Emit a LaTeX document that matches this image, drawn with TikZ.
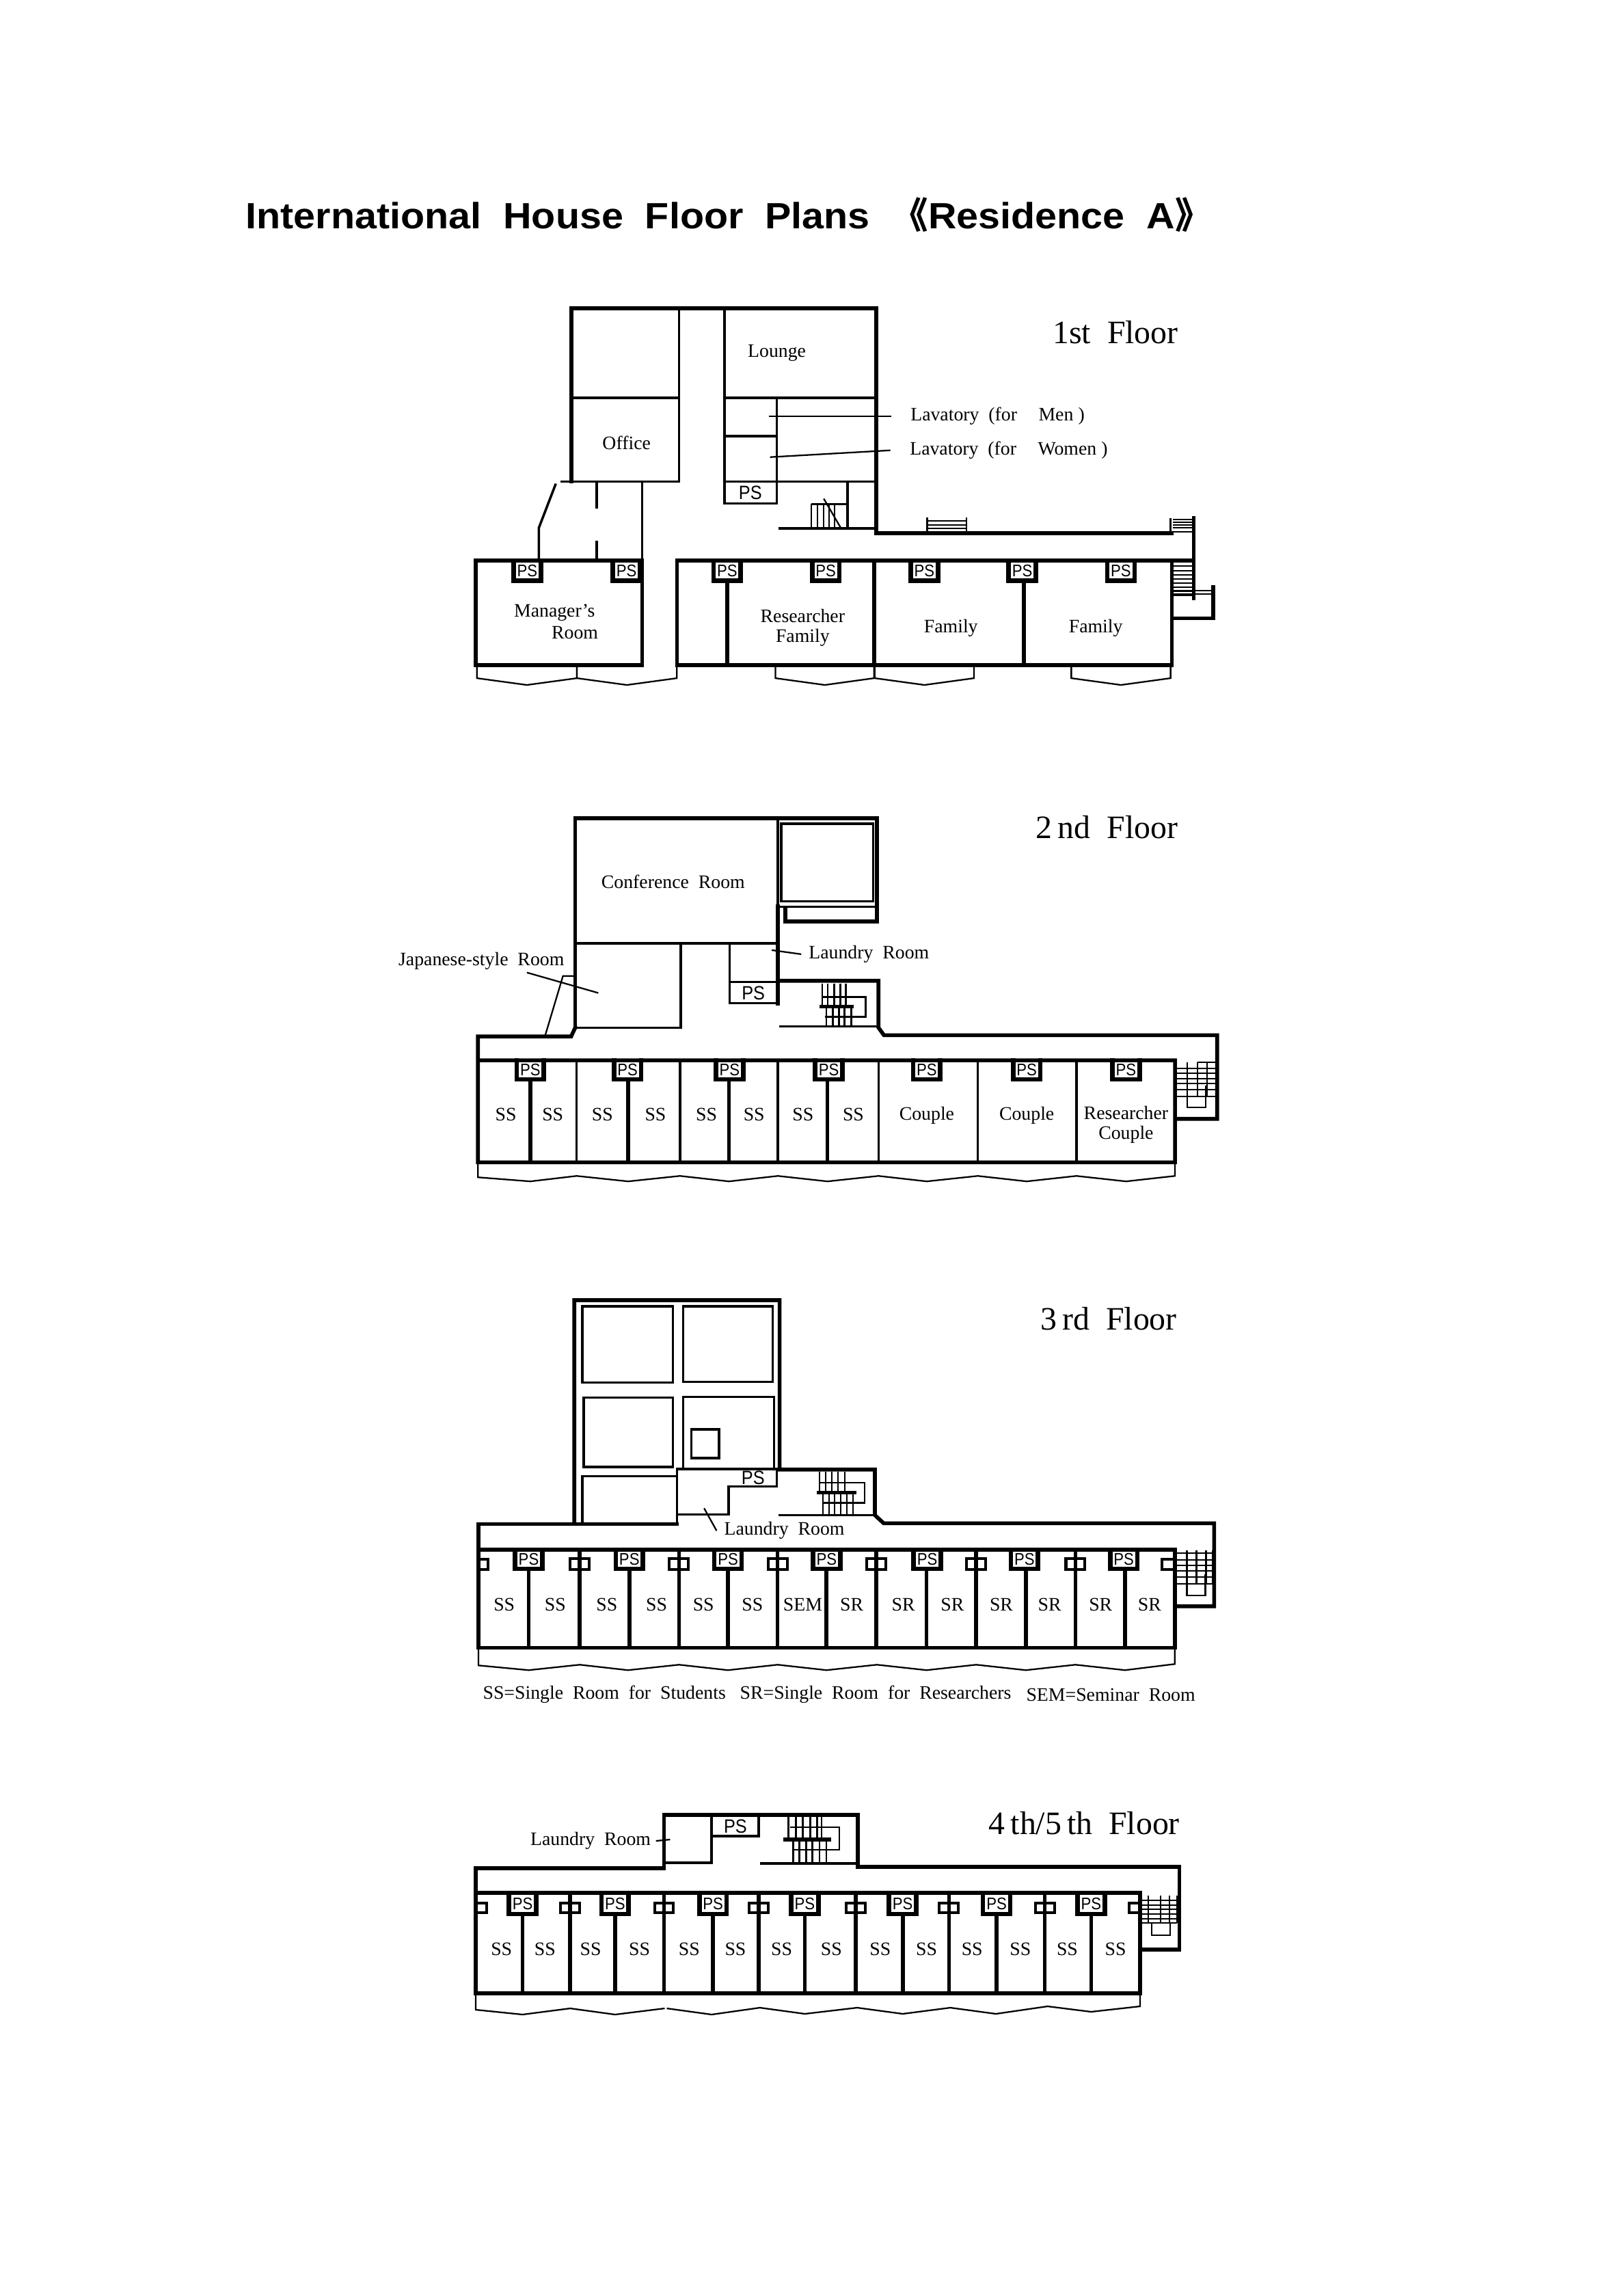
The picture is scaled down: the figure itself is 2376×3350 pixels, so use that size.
\documentclass[tikz,border=0pt]{standalone}
\usepackage{fontspec}
\setmainfont[WordSpace=2]{Liberation Serif}
\newfontfamily\titlefont[WordSpace=2,FakeStretch=1.075]{Liberation Sans}
\newfontfamily\bracketfont{Noto Sans CJK JP}
\newfontfamily\psfont[FakeStretch=.9]{Liberation Sans}
\newcommand{\psniche}[4]{
  \node[psmall] (ps#4) at (#1,{(#2+#3)/2}) {PS};
  \draw[niche] (#1-20,#2) -- (#1-20,#3) -- (#1+20,#3) -- (#1+20,#2);
}
\newcommand{\pipebox}[3]{
  \draw[pipe] (#1-14,#2) rectangle (#1+14,#3);
}
\newcommand{\bay}[3]{
  \draw[thin] (#1,#3) -- (#1,#3+17) -- ({(#1+#2)/2},#3+27) -- (#2,#3+17) -- (#2,#3);
}
\begin{document}
\begin{tikzpicture}[x=0.01cm,y=-0.01cm,
    wall/.style={line width=1.6pt,line cap=rect},
    niche/.style={line width=1.9pt,line cap=rect},
    pipe/.style={line width=1.15pt},
    mid/.style={line width=1pt},
    thin/.style={line width=0.65pt},
    room/.style={inner sep=0pt,font=\fontsize{7.9}{8.3}\selectfont,align=center},
    floorname/.style={inner sep=0pt,font=\fontsize{13.6}{16}\selectfont},
    psbig/.style={inner sep=0pt,font=\psfont\fontsize{8}{8}\selectfont},
    psmall/.style={inner sep=0pt,font=\psfont\fontsize{7}{7}\selectfont}]
  \useasboundingbox (0,0) rectangle (2376,3350);
  \node[inner sep=0pt,anchor=west] (title) at (359,314) {\titlefont\bfseries\fontsize{15.2}{18}\selectfont International House Floor Plans {\bracketfont\bfseries 《}Residence A{\bracketfont\bfseries 》}};

  % 1st floor
  \begin{scope}[shift={(660,420)},scale=.9949,shift={(-660,-420)}]
  \node[floorname] (floora) at (1637,486) {1st Floor};
  \draw[wall] (837,706) -- (837,451) -- (1285,451) -- (1285,782) -- (1720,782);
  \draw[mid] (821,706) -- (995,706) -- (995,451);
  \draw[mid] (837,583) -- (995,583);
  \draw[mid] (1062,451) -- (1062,738) -- (1139,738) -- (1139,583);
  \draw[mid] (1062,583) -- (1285,583);
  \draw[mid] (1062,639) -- (1139,639);
  \draw[mid] (1062,706) -- (1285,706);
  \node[psbig] (psa) at (1100,722) {PS};
  \draw[mid] (1243,706) -- (1243,775);
  \draw[mid] (1141,775) -- (1285,775);
  \draw[thin] (1190,739) -- (1243,739);
  \foreach \x in {1190,1199,1208,1216,1224} \draw[thin] (\x,739) -- (\x,775);
  \draw[thin] (1208,731) -- (1233,774);
  \draw[thin] (1360,759) -- (1360,782);
  \draw[thin] (1418,759) -- (1418,782);
  \foreach \y in {764,770,775} \draw[thin] (1360,\y) -- (1418,\y);
  \draw[wall] (1752,760) -- (1752,877);
  \draw[thin] (1718,760) -- (1718,782);
  \foreach \y in {762,766,770,774,780,823,830,837,843,849,855,861,867,873} \draw[thin] (1721,\y) -- (1752,\y);
  \draw[wall] (696,822) rectangle (941,976);
  \draw[wall] (992,976) -- (992,822) -- (1752,822);
  \draw[wall] (992,976) -- (1720,976) -- (1720,822);
  \foreach \x in {1282} \draw[wall] (\x,822) -- (\x,976);
  \foreach \x in {1066,1502} \draw[wall] (\x,851) -- (\x,976);
  \draw[mid] (941,706) -- (941,822);
  \draw[mid] (874,706) -- (874,746);
  \draw[mid] (874,793) -- (874,822);
  \draw[mid] (814,709) -- (789,774) -- (789,822);
  \draw[wall] (1781,861) -- (1781,907) -- (1721,907);
  \draw[thin] (1721,866) -- (1781,866);
  \draw[thin] (1721,871) -- (1781,871);
  \foreach \x [count=\i] in {772,918,1066,1211,1356,1500,1645} {\psniche{\x}{822}{852}{a\i}}
  \bay{698}{845}{978}
  \bay{845}{992}{978}
  \bay{1137}{1282}{978}
  \bay{1283}{1429}{978}
  \bay{1572}{1718}{978}
  \node[room] (lounge) at (1139,517) {Lounge};
  \node[room] (office) at (918,649) {Office};
  \node[room] (manager) at (812,899) {Manager's};
  \node[room] (managerb) at (842,928) {Room};
  \node[room] (researcher) at (1177,921) {Researcher\\Family};
  \node[room] (familya) at (1395,921) {Family};
  \node[room] (familyb) at (1608,921) {Family};
  \node[room,anchor=west] (lavmen) at (1335,610) {Lavatory (for\hspace{5pt} Men\hspace{2pt})};
  \node[room,anchor=west] (lavwomen) at (1334,660) {Lavatory (for\hspace{5pt} Women\hspace{2pt})};
  \coordinate (lavmenend) at (1127,610);
  \coordinate (lavwomenend) at (1129,670);
  \draw[thin] (lavmenend) -- ([xshift=-8pt]lavmen.west);
  \draw[thin] (lavwomenend) -- ([xshift=-8pt]lavwomen.west);
  \end{scope}

  % 2nd floor
  \begin{scope}[shift={(560,1180)},scale=.9949,shift={(-560,-1180)}]
  \node[floorname] (floorb) at (1625,1210) {2\,nd Floor};
  \draw[wall] (843,1505) -- (843,1197) -- (1287,1197) -- (1287,1349) -- (1152,1349) -- (1152,1329);
  \draw[mid] (843,1381) -- (1141,1381);
  \draw[mid] (1141,1197) -- (1141,1327);
  \draw[wall] (1141,1327) -- (1141,1470);
  \draw[mid] (1141,1327) -- (1287,1327);
  \draw[mid] (1146,1205) rectangle (1281,1319);
  \draw[mid] (843,1505) -- (998,1505) -- (998,1381);
  \draw[mid] (1070,1381) -- (1070,1469) -- (1141,1469);
  \draw[mid] (1070,1438) -- (1141,1438);
  \node[psbig] (psb) at (1105,1454) {PS};
  \draw[wall] (1141,1436) -- (1289,1436) -- (1289,1505) -- (1297,1516) -- (1787,1516) -- (1787,1639) -- (1727,1639);
  \draw[mid] (1143,1503) -- (1289,1503);
  \foreach \x in {1206,1214,1224,1233,1241} \draw[thin] (\x,1440) -- (\x,1474);
  \foreach \x in {1212,1222,1231,1239,1249} \draw[thin] (\x,1474) -- (\x,1502);
  \draw[wall] (1205,1474) -- (1250,1474);
  \draw[thin] (1206,1460) -- (1270,1460) -- (1270,1489) -- (1210,1489);
  \draw[wall] (843,1505) -- (837,1518) -- (700,1518) -- (700,1703) -- (1725,1703) -- (1725,1553) -- (700,1553);
  \draw[thin] (799,1516) -- (825,1429) -- (843,1429);
  \foreach \x in {845,997,1141,1289,1435,1580} \draw[mid] (\x,1553) -- (\x,1703);
  \foreach \x in {777,921,1069,1214} \draw[wall] (\x,1581) -- (\x,1703);
  \foreach \x [count=\i] in {777,920,1070,1216,1360,1507,1653} {\psniche{\x}{1553}{1581}{b\i}}
  \foreach \x in {1743,1758,1772,1785} \draw[thin] (\x,1556) -- (\x,1606);
  \foreach \y in {1565,1572,1580,1587,1596,1606} \draw[thin] (1727,\y) -- (1785,\y);
  \draw[thin] (1758,1556) -- (1785,1556);
  \draw[thin] (1743,1606) -- (1743,1622) -- (1770,1622) -- (1770,1590);
  \draw[thin] (700,1703) -- (700,1725) -- (777,1731) -- (845,1723) -- (921,1731) -- (997,1723) -- (1069,1731) -- (1141,1723) -- (1214,1731) -- (1289,1723) -- (1360,1731) -- (1435,1723) -- (1507,1731) -- (1580,1723) -- (1653,1731) -- (1725,1723) -- (1725,1703);
  \node[room] (conference) at (987,1290) {Conference Room};
  \node[room] (japanese) at (705,1407) {Japanese-style Room};
  \node[room] (laundryb) at (1275,1397) {Laundry Room};
  \coordinate (japanesestart) at (772,1424);
  \coordinate (japaneseend) at (877,1454);
  \coordinate (laundrybend) at (1132,1391);
  \draw[thin] (japanesestart) -- (japaneseend);
  \draw[thin] (laundrybend) -- ([xshift=-3pt]laundryb.west);
  \foreach \x [count=\i] in {741,810,883,961,1036,1106,1178,1252} \node[room] (ssb\i) at (\x,1633) {SS};
  \node[room] (couplea) at (1360,1634) {Couple};
  \node[room] (coupleb) at (1507,1634) {Couple};
  \node[room] (researcherb) at (1653,1648) {Researcher\\Couple};
  \end{scope}

  % 3rd floor
  \begin{scope}[shift={(680,1900)},scale=.9949,shift={(-680,-1900)}]
  \node[floorname] (floorc) at (1627,1929) {3\,rd Floor};
  \draw[wall] (841,2230) -- (841,1902) -- (1143,1902) -- (1143,2151) -- (1283,2151) -- (1283,2218) -- (1296,2230) -- (1782,2230) -- (1782,2352) -- (1727,2352);
  \draw[mid] (853,1911) rectangle (986,2023);
  \draw[mid] (1001,1911) rectangle (1133,2022);
  \draw[mid] (855,2045) rectangle (986,2147);
  \draw[mid] (1001,2151) -- (1001,2044) -- (1135,2044) -- (1135,2151);
  \draw[mid] (1013,2092) rectangle (1054,2134);
  \draw[mid] (853,2231) -- (853,2161) -- (991,2161);
  \draw[mid] (992,2232) -- (992,2150) -- (1141,2150);
  \draw[mid] (992,2217) -- (1068,2217) -- (1068,2176) -- (1139,2176) -- (1139,2150);
  \node[psbig] (psc) at (1104,2163) {PS};
  \draw[mid] (1141,2218) -- (1283,2218);
  \foreach \x in {1202,1211,1220,1229,1239} \draw[thin] (\x,2154) -- (\x,2185);
  \foreach \x in {1207,1216,1224,1233,1242,1251} \draw[thin] (\x,2185) -- (\x,2217);
  \draw[wall] (1200,2185) -- (1253,2185);
  \draw[thin] (1202,2170) -- (1268,2170) -- (1268,2200) -- (1207,2200);
  \draw[wall] (992,2231) -- (700,2231) -- (700,2413) -- (1724,2413) -- (1724,2269) -- (700,2269);
  \foreach \x in {849,995,1140,1285,1432,1578} \draw[wall] (\x,2269) -- (\x,2413);
  \foreach \x in {774,922,1067,1212,1359,1505,1651} \draw[wall] (\x,2297) -- (\x,2413);
  \foreach \x [count=\i] in {774,922,1067,1212,1360,1503,1649} {\psniche{\x}{2269}{2297}{c\i}}
  \foreach \x in {849,995,1140,1285,1432,1578} {\pipebox{\x}{2282}{2298}}
  \draw[pipe] (700,2283) rectangle (714,2298);
  \draw[pipe] (1705,2283) rectangle (1724,2298);
  \foreach \x in {1742,1756,1770,1780} \draw[thin] (\x,2270) -- (\x,2319);
  \foreach \y in {2274,2284,2292,2300,2309,2319} \draw[thin] (1727,\y) -- (1780,\y);
  \draw[thin] (1742,2319) -- (1742,2336) -- (1769,2336) -- (1769,2305);
  \draw[thin] (700,2413) -- (700,2439) -- (774,2446) -- (849,2438) -- (920,2446) -- (995,2438) -- (1067,2446) -- (1140,2438) -- (1212,2446) -- (1286,2438) -- (1359,2446) -- (1432,2438) -- (1505,2446) -- (1578,2438) -- (1651,2446) -- (1724,2437) -- (1724,2413);
  \node[room] (laundryc) at (1150,2241) {Laundry Room};
  \coordinate (laundrycend) at (1032,2208);
  \draw[thin] (laundrycend) -- ([xshift=-3pt]laundryc.west);
  \foreach \x [count=\i] in {738,813,889,962,1031,1103} \node[room] (ssc\i) at (\x,2350) {SS};
  \node[room] (sem) at (1177,2350) {SEM};
  \foreach \x [count=\i] in {1249,1325,1397,1469,1540,1615,1687} \node[room] (sr\i) at (\x,2350) {SR};
  \node[room,anchor=west] (legenda) at (706,2482) {SS=Single Room for Students};
  \node[room,anchor=west] (legendb) at (1084,2482) {SR=Single Room for Researchers};
  \node[room,anchor=west] (legendc) at (1505,2482) {SEM=Seminar Room};
  \end{scope}

  % 4th/5th floor
  \begin{scope}[shift={(680,0)},xscale=.9949,shift={(-680,0)}]
  \node[floorname] (floord) at (1591,2667) {4\,th/5\,th Floor};
  \draw[wall] (696,2733) -- (973,2733) -- (973,2655) -- (1258,2655) -- (1258,2731) -- (1731,2731) -- (1731,2852) -- (1674,2852);
  \draw[mid] (1043,2658) -- (1043,2725) -- (973,2725);
  \draw[mid] (1043,2686) -- (1112,2686) -- (1112,2658);
  \node[psbig] (psd) at (1078,2672) {PS};
  \draw[mid] (1114,2726) -- (1258,2726);
  \foreach \x in {1156,1167,1177,1188,1198,1205} \draw[thin] (\x,2658) -- (\x,2691);
  \foreach \x in {1163,1172,1182,1191,1202,1212} \draw[thin] (\x,2691) -- (\x,2724);
  \draw[wall] (1151,2691) -- (1216,2691);
  \draw[thin] (1158,2673) -- (1231,2673) -- (1231,2706) -- (1163,2706);
  \draw[wall] (696,2733) -- (696,2916) -- (1673,2916) -- (1673,2769) -- (696,2769);
  \foreach \x in {835,973,1112,1255,1392,1533} \draw[wall] (\x,2769) -- (\x,2916);
  \foreach \x in {765,901,1045,1180,1324,1462,1601} \draw[wall] (\x,2800) -- (\x,2916);
  \foreach \x [count=\i] in {765,901,1045,1180,1324,1462,1601} {\psniche{\x}{2769}{2800}{d\i}}
  \foreach \x in {835,973,1112,1255,1392,1533} {\pipebox{\x}{2784}{2798}}
  \draw[pipe] (696,2784) rectangle (712,2798);
  \draw[pipe] (1657,2784) rectangle (1673,2798);
  \foreach \x in {1685,1703,1716,1727} \draw[thin] (\x,2773) -- (\x,2813);
  \foreach \y in {2780,2787,2793,2800,2807,2813} \draw[thin] (1675,\y) -- (1727,\y);
  \draw[thin] (1690,2813) -- (1690,2831) -- (1717,2831) -- (1717,2813);
  \draw[thin] (696,2916) -- (696,2940) -- (765,2947) -- (835,2938) -- (901,2947) -- (974,2938);
  \draw[thin] (977,2938) -- (1043,2947) -- (1114,2937) -- (1180,2946) -- (1257,2937) -- (1324,2946) -- (1394,2937) -- (1461,2946) -- (1537,2935) -- (1601,2943) -- (1673,2935) -- (1673,2916);
  \node[room] (laundryd) at (865,2693) {Laundry Room};
  \coordinate (laundrydend) at (982,2691);
  \draw[thin] (laundrydend) -- ([xshift=2pt]laundryd.east);
  \foreach \x [count=\i] in {734,798,865,937,1010,1078,1146,1219,1291,1359,1426,1497,1566,1637} \node[room] (ssd\i) at (\x,2851) {SS};
  \end{scope}
\end{tikzpicture}
\end{document}
